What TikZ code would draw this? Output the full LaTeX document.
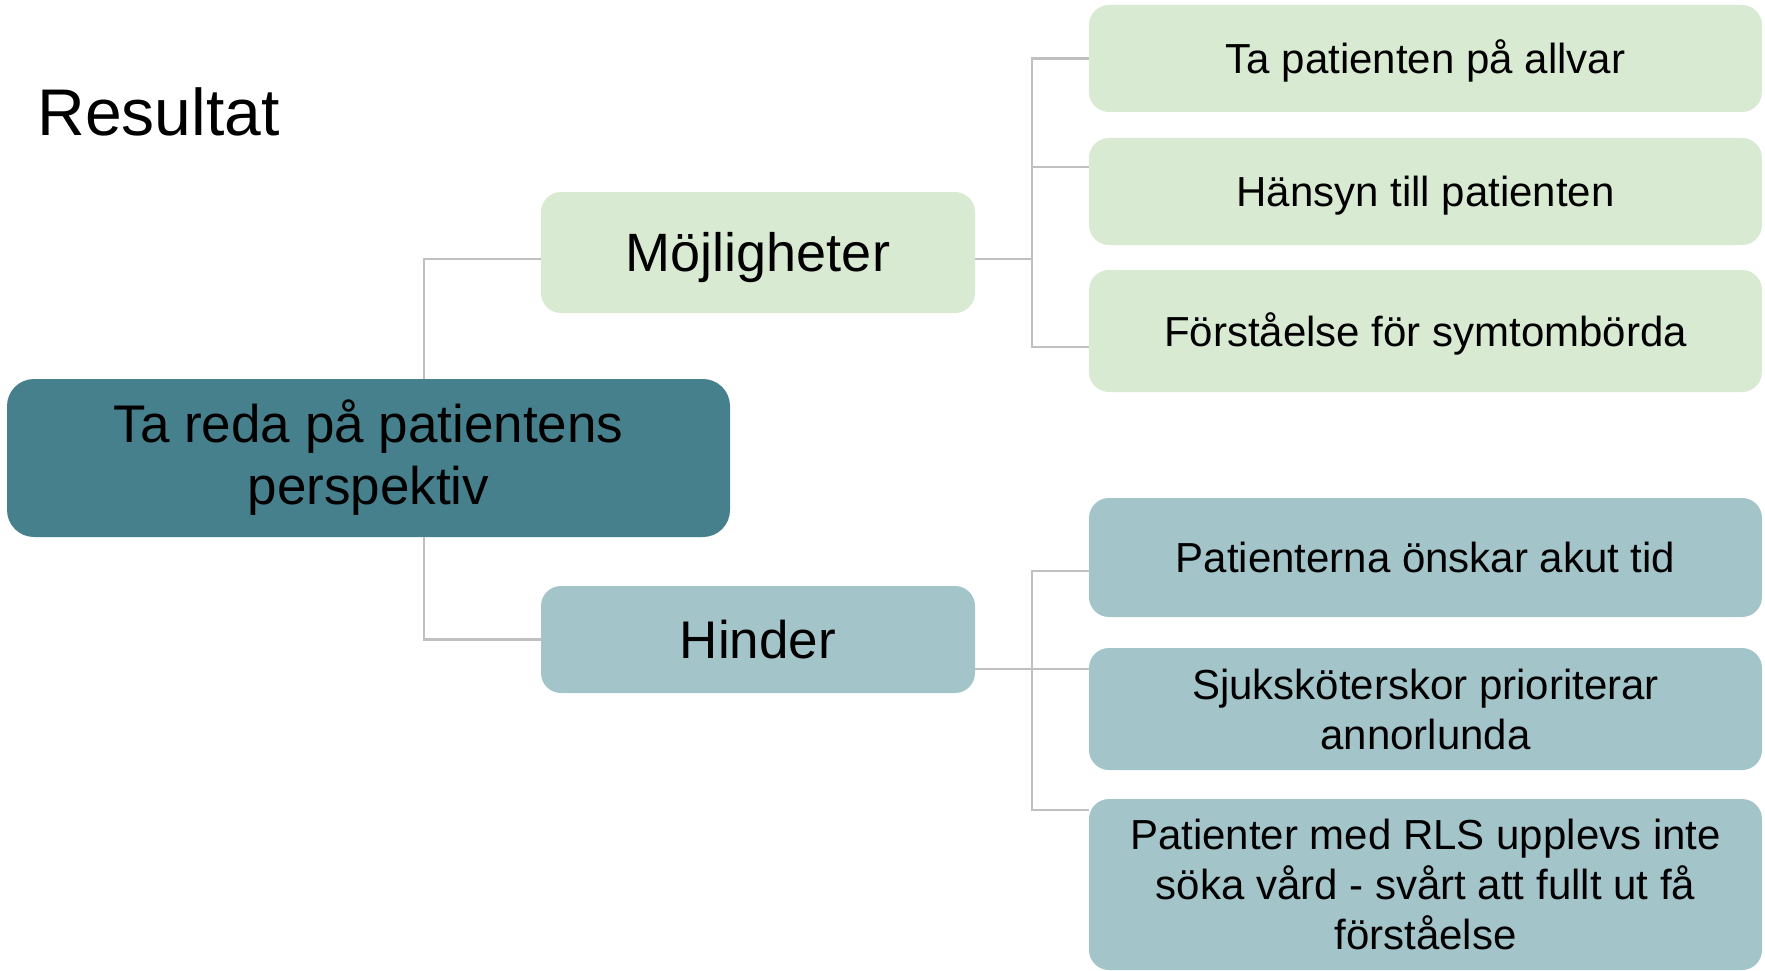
\documentclass[tikz,border=0pt]{standalone}
\usepackage{fontspec}
\setmainfont{Liberation Sans}
\definecolor{rootc}{HTML}{47808D}
\definecolor{greenc}{HTML}{D9EAD3}
\definecolor{bluec}{HTML}{A3C4C9}
\definecolor{linec}{HTML}{C0C0C0}
\tikzset{
  box/.style={rectangle, rounded corners=20pt, inner sep=0pt, align=center, text=black},
  rootbox/.style={box, fill=rootc, rounded corners=27pt, font=\fontsize{53}{62}\selectfont},
  midgreen/.style={box, fill=greenc, font=\fontsize{54}{62}\selectfont, text height=37pt, text depth=0pt},
  midblue/.style={box, fill=bluec, font=\fontsize{53}{62}\selectfont, text height=37pt, text depth=0pt},
  leafgreen/.style={box, fill=greenc, font=\fontsize{42}{50}\selectfont, minimum width=673pt},
  leafblue/.style={box, fill=bluec, font=\fontsize{42}{50}\selectfont, minimum width=673pt},
  oneline/.style={text height=30pt, text depth=0pt},
  conn/.style={draw=linec, line width=2.5pt}
}
\begin{document}
\begin{tikzpicture}[x=1pt,y=-1pt]
\useasboundingbox (0,0) rectangle (1765,971);
\node[anchor=base west, font=\fontsize{66}{78}\selectfont] (title) at (34,136) {Resultat};

\node[rootbox, minimum width=723pt, minimum height=158pt] (root) at (368.5,458) {Ta reda på patientens\\perspektiv};
\node[midgreen, minimum width=434pt, minimum height=121pt] (moj) at (758,252.5) {Möjligheter};
\node[midblue, minimum width=434pt, minimum height=107pt] (hin) at (758,639.5) {Hinder};

\node[leafgreen, oneline, minimum height=107pt] (b1) at (1425.5,58.5) {Ta patienten på allvar};
\node[leafgreen, oneline, minimum height=107pt] (b2) at (1425.5,191.5) {Hänsyn till patienten};
\node[leafgreen, oneline, minimum height=122pt] (b3) at (1425.5,331) {Förståelse för symtombörda};
\node[leafblue, oneline, minimum height=119pt] (b4) at (1425.5,557.5) {Patienterna önskar akut tid};
\node[leafblue, minimum height=122pt] (b5) at (1425.5,709) {Sjuksköterskor prioriterar\\annorlunda};
\node[leafblue, minimum height=171pt] (b6) at (1425.5,884.5) {Patienter med RLS upplevs inte\\söka vård - svårt att fullt ut få\\förståelse};

\coordinate (ju) at (1032,259);
\coordinate (jd) at (1032,669);

\draw[conn] ([xshift=55.5pt]root.north) |- ([yshift=-6.5pt]moj.west);
\draw[conn] ([xshift=55.5pt]root.south) |- (hin.west);
\draw[conn] ([yshift=-6.5pt]moj.east) -- (ju);
\draw[conn] (ju) |- (b1.west);
\draw[conn] (ju) |- ([yshift=24.5pt]b2.west);
\draw[conn] (ju) |- ([yshift=-16pt]b3.west);
\draw[conn] ([yshift=-29.5pt]hin.east) -- (jd);
\draw[conn] (jd) |- ([yshift=-13.5pt]b4.west);
\draw[conn] (jd) |- ([yshift=40pt]b5.west);
\draw[conn] (jd) |- ([yshift=74.5pt]b6.west);
\end{tikzpicture}
\end{document}
